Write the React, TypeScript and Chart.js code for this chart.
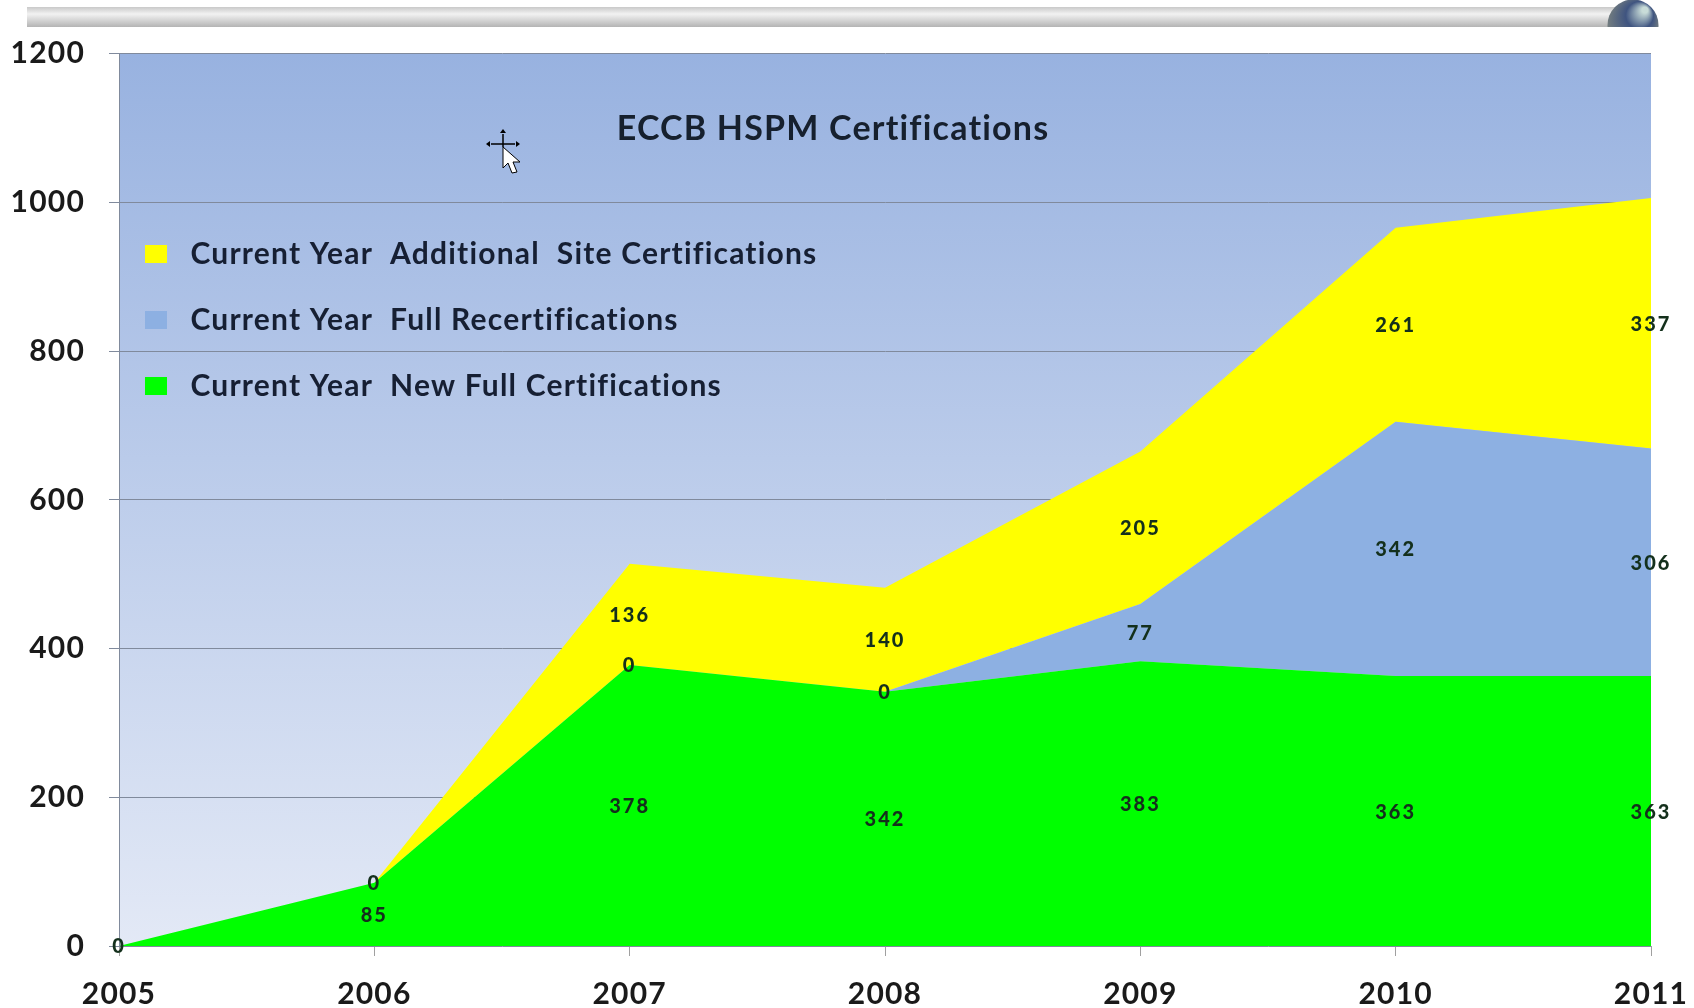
import React, { useEffect, useRef } from "react";
import { Chart, registerables } from "chart.js";

Chart.register(...registerables);

const years = ["2005", "2006", "2007", "2008", "2009", "2010", "2011"];
const newFull = [0, 85, 378, 342, 383, 363, 363];
const recert = [0, 0, 0, 0, 77, 342, 306];
const additional = [0, 0, 136, 140, 205, 261, 337];
const titleText = "ECCB HSPM Certifications";
const FONT = 'Lato, "Open Sans", sans-serif';

function arrowHead(ctx: any, x: number, y: number, dx: number, dy: number) {
  ctx.beginPath();
  ctx.moveTo(x + dx * 4, y + dy * 4);
  ctx.lineTo(x - dy * 3, y + dx * 3);
  ctx.lineTo(x + dy * 3, y - dx * 3);
  ctx.closePath();
  ctx.fill();
}

const pagePlugin = {
  id: "page",
  beforeDraw(chart: any) {
    const { ctx, chartArea: a } = chart;
    ctx.letterSpacing = "1.2px";
    ctx.save();
    ctx.fillStyle = "#ffffff";
    ctx.fillRect(0, 0, chart.width, chart.height);
    // header bar
    const bar = ctx.createLinearGradient(0, 7, 0, 27);
    bar.addColorStop(0, "#c9c9c9");
    bar.addColorStop(0.35, "#f2f2f2");
    bar.addColorStop(1, "#b4b4b4");
    ctx.fillStyle = bar;
    ctx.fillRect(27, 7, 1590, 20);
    // globe
    ctx.beginPath();
    ctx.rect(1600, 0, 70, 27);
    ctx.clip();
    const g = ctx.createRadialGradient(1645, 10, 3, 1633, 22, 27);
    g.addColorStop(0, "#c8dcd8");
    g.addColorStop(0.45, "#3f5480");
    g.addColorStop(1, "#77807f");
    ctx.fillStyle = g;
    ctx.beginPath();
    ctx.arc(1633, 25, 25.5, 0, Math.PI * 2);
    ctx.fill();
    ctx.restore();
    // plot gradient
    ctx.save();
    const bg = ctx.createLinearGradient(0, a.top, 0, a.bottom);
    bg.addColorStop(0, "#98b2e0");
    bg.addColorStop(1, "#e3e9f6");
    ctx.fillStyle = bg;
    ctx.fillRect(a.left, a.top, a.right - a.left, a.bottom - a.top);
    ctx.restore();
    // place title and legend inside the plot
    const t = chart.titleBlock;
    if (t) {
      t.left = 533;
      t.right = 1133;
      t.top = 109;
      t.bottom = 149;
    }
    const l = chart.legend;
    if (l) {
      l.left = 145 - 36;
      l.top = 252 - 36 - 13;
    }
  },
  afterDatasetsDraw(chart: any) {
    const { ctx, scales } = chart;
    const y = scales.y;
    const x = scales.x;
    ctx.save();
    ctx.font = `900 20px ${FONT}`;
    ctx.letterSpacing = "2px";
    ctx.fillStyle = "#14301c";
    ctx.textAlign = "center";
    ctx.textBaseline = "middle";
    const seen = new Set<string>();
    years.forEach((_, i) => {
      let base = 0;
      chart.data.datasets.forEach((ds: any) => {
        const v = ds.data[i];
        const key = `${i}:${base + v / 2}`;
        if (!seen.has(key)) {
          seen.add(key);
          ctx.fillText(String(v), x.getPixelForValue(i), y.getPixelForValue(base + v / 2) + 1);
        }
        base += v;
      });
    });
    ctx.restore();
    // pointer
    ctx.save();
    ctx.translate(503, 147);
    ctx.fillStyle = "#ffffff";
    ctx.strokeStyle = "#000000";
    ctx.lineWidth = 1;
    ctx.beginPath();
    ctx.moveTo(0, 0);
    ctx.lineTo(0, 21);
    ctx.lineTo(5, 16);
    ctx.lineTo(9, 26);
    ctx.lineTo(14, 25);
    ctx.lineTo(10, 15);
    ctx.lineTo(17, 15);
    ctx.closePath();
    ctx.fill();
    ctx.stroke();
    ctx.fillStyle = "#000000";
    ctx.lineWidth = 1.5;
    ctx.beginPath();
    ctx.moveTo(0, -13);
    ctx.lineTo(0, 0);
    ctx.moveTo(-12, -3);
    ctx.lineTo(12, -3);
    ctx.stroke();
    arrowHead(ctx, 0, -14, 0, -1);
    arrowHead(ctx, -13, -3, -1, 0);
    arrowHead(ctx, 13, -3, 1, 0);
    ctx.restore();
  },
};

export default function App() {
  const ref = useRef<HTMLCanvasElement>(null);
  useEffect(() => {
    const chart = new Chart(ref.current as HTMLCanvasElement, {
      type: "line",
      data: {
        labels: years,
        datasets: [
          { label: "Current Year  New Full Certifications", data: newFull, backgroundColor: "#00ff00", borderWidth: 0, fill: "origin", pointRadius: 0, tension: 0 },
          { label: "Current Year  Full Recertifications", data: recert, backgroundColor: "#8db0e2", borderWidth: 0, fill: "-1", pointRadius: 0, tension: 0 },
          { label: "Current Year  Additional  Site Certifications", data: additional, backgroundColor: "#ffff00", borderWidth: 0, fill: "-1", pointRadius: 0, tension: 0 },
        ],
      },
      plugins: [pagePlugin],
      options: {
        responsive: false,
        animation: false,
        layout: { padding: { top: 13, right: 43, left: 0, bottom: 0 } },
        plugins: {
          tooltip: { enabled: false },
          title: {
            display: true,
            text: titleText,
            color: "#16202e",
            padding: 0,
            font: { family: FONT, size: 34, weight: "700" },
          },
          legend: {
            position: "chartArea",
            align: "start",
            reverse: true,
            labels: {
              boxWidth: 22,
              boxHeight: 18,
              padding: 36,
              color: "#161f33",
              font: { family: FONT, size: 30, weight: "700" },
              generateLabels(c: any) {
                const items = Chart.defaults.plugins.legend.labels.generateLabels(c);
                items.forEach((it: any) => {
                  it.text = "\u00a0" + it.text;
                  it.lineWidth = 0;
                });
                return items;
              },
            },
          },
        },
        scales: {
          x: {
            type: "category",
            offset: false,
            afterFit(s: any) {
              s.height = 62;
              s.paddingRight = 0;
              s.paddingLeft = 0;
            },
            grid: { drawOnChartArea: false, drawTicks: true, tickLength: 10, color: "#a0a0a0" },
            border: { display: false },
            ticks: { color: "#1a1a1a", padding: 20, maxRotation: 0, autoSkip: false, font: { family: FONT, size: 30, weight: "700" } },
          },
          y: {
            stacked: true,
            min: 0,
            max: 1200,
            afterFit(s: any) { s.width = 119; },
            grid: { color: "#808a9c", lineWidth: 1, tickLength: 10 },
            border: { display: true, color: "#808a9c" },
            ticks: {
              stepSize: 200,
              color: "#1a1a1a",
              padding: 24,
              font: { family: FONT, size: 30, weight: "700" },
              callback: (v: any) => String(v),
            },
          },
        },
      },
    } as any);
    return () => chart.destroy();
  }, []);
  return (
    <div style={{ position: "absolute", left: 0, top: 0, width: 1694, height: 1008 }}>
      <canvas ref={ref} width={1694} height={1008} style={{ display: "block" }} />
    </div>
  );
}
